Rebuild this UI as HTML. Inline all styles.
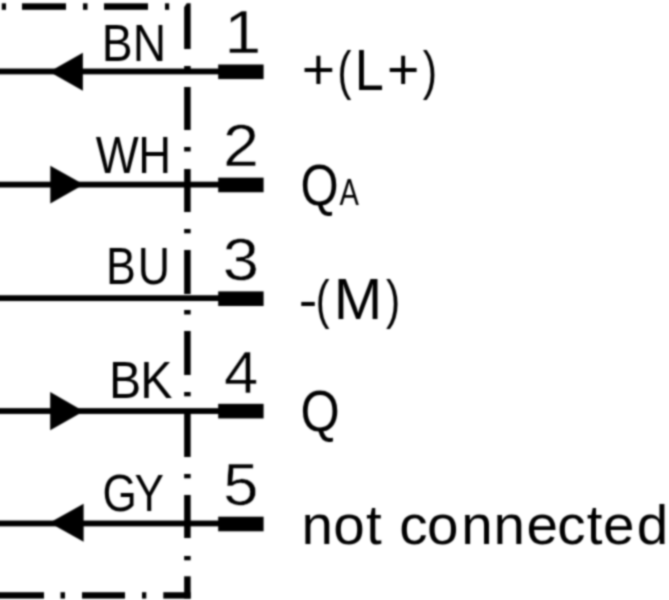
<!DOCTYPE html>
<html><head><meta charset="utf-8"><style>
html,body{margin:0;padding:0;background:#fff;width:669px;height:600px;overflow:hidden}
svg{position:absolute;left:0;top:0;display:block}
text{font-family:"Liberation Sans",sans-serif;fill:#000}
.t{will-change:transform}
</style></head><body>
<svg width="669" height="600" viewBox="0 0 669 600">
<defs><filter id="bl" color-interpolation-filters="sRGB" filterUnits="userSpaceOnUse" x="0" y="0" width="669" height="600"><feConvolveMatrix order="5" kernelMatrix="1 6 12 6 1 6 36 72 36 6 12 72 144 72 12 6 36 72 36 6 1 6 12 6 1" divisor="676" edgeMode="duplicate"/></filter></defs>
<g filter="url(#bl)">
<rect x="0" y="0" width="669" height="600" fill="#fff"/>
<g fill="#000">
<rect x="1.8" y="3.3" width="4.2" height="6.5"/>
<rect x="22" y="3.3" width="44" height="6.5"/>
<rect x="83" y="3.3" width="4.5" height="6.5"/>
<rect x="104" y="3.3" width="44" height="6.5"/>
<rect x="165" y="3.3" width="4.2" height="6.5"/>
<polygon points="184.15,7.2 186.75,3.3 190.65,3.3 190.65,49 184.15,49"/>
<rect x="184.15" y="66" width="6.5" height="4.5"/>
<rect x="184.15" y="87" width="6.5" height="43"/>
<rect x="184.15" y="147" width="6.5" height="4.5"/>
<rect x="184.15" y="169" width="6.5" height="43"/>
<rect x="184.15" y="229" width="6.5" height="4.3"/>
<rect x="184.15" y="250" width="6.5" height="44"/>
<rect x="184.15" y="310" width="6.5" height="4.5"/>
<rect x="184.15" y="331" width="6.5" height="44"/>
<rect x="184.15" y="392" width="6.5" height="4.3"/>
<rect x="184.15" y="413" width="6.5" height="44"/>
<rect x="184.15" y="474" width="6.5" height="4.3"/>
<rect x="184.15" y="495" width="6.5" height="43"/>
<rect x="184.15" y="556" width="6.5" height="4.3"/>
<rect x="184.15" y="576.3" width="6.5" height="22.3"/>
<rect x="-1" y="592.2" width="45" height="6.4"/>
<rect x="60.5" y="592.2" width="4.5" height="6.4"/>
<rect x="82" y="592.2" width="43" height="6.4"/>
<rect x="142" y="592.2" width="4.3" height="6.4"/>
<rect x="163.3" y="592.2" width="27.35" height="6.4"/>
<rect x="-1" y="68.55" width="220" height="5.8"/>
<rect x="-1" y="181.7" width="220" height="5.8"/>
<rect x="-1" y="295.25" width="220" height="5.8"/>
<rect x="-1" y="408.15" width="220" height="5.8"/>
<rect x="-1" y="520.55" width="220" height="5.8"/>
<rect x="218.2" y="64.5" width="45.4" height="14.6"/>
<rect x="218.2" y="177.65" width="45.4" height="14.6"/>
<rect x="218.2" y="291.4" width="45.4" height="14.6"/>
<rect x="218.2" y="403.85" width="45.4" height="14.6"/>
<rect x="218.2" y="516.7" width="45.4" height="14.6"/>
<polygon points="49.3,71.8 82.9,52.849999999999994 82.9,90.75"/>
<polygon points="50.3,165.7 50.3,203.5 83.8,184.6"/>
<polygon points="50.2,392.09999999999997 50.2,430.3 83.7,411.2"/>
<polygon points="49.5,522.8 83.6,503.79999999999995 83.6,541.8"/>
</g>
<g class="t" font-size="100">
<text transform="translate(0 60.90) scale(0.4625 0.5120)" x="219.81 287.18" y="0">BN</text>
<text transform="translate(0 172.50) scale(0.4550 0.5120)" x="210.69 303.94" y="0">WH</text>
<text transform="translate(0 283.90) scale(0.4470 0.5120)" x="237.37 308.18" y="0">BU</text>
<text transform="translate(0 397.90) scale(0.4820 0.5120)" x="226.00 291.20" y="0">BK</text>
<text transform="translate(0 511.00) scale(0.4418 0.5120)" x="232.14 304.21" y="0">GY</text>
<text transform="translate(224.19 52.60) scale(0.6659 0.6142)" stroke="#fff" stroke-width="0.781">1</text>
<text transform="translate(223.11 165.60) scale(0.6478 0.6011)" stroke="#fff" stroke-width="0.801">2</text>
<text transform="translate(222.74 279.65) scale(0.6521 0.6010)" stroke="#fff" stroke-width="0.798">3</text>
<text transform="translate(224.12 392.60) scale(0.6137 0.6011)" stroke="#fff" stroke-width="0.823">4</text>
<text transform="translate(223.32 504.65) scale(0.6312 0.6011)" stroke="#fff" stroke-width="0.811">5</text>
<text transform="translate(301.82 89.33) scale(0.5700 0.5816)">+</text>
<text transform="translate(337.59 89.16) scale(0.4185 0.5351)">(</text>
<text transform="translate(354.72 89.90) scale(0.5222 0.5670)">L</text>
<text transform="translate(386.88 89.46) scale(0.5540 0.5735)">+</text>
<text transform="translate(422.67 89.16) scale(0.4308 0.5351)">)</text>
<text transform="translate(300.54 204.60) scale(0.4899 0.5670)">Q</text>
<text transform="translate(339.50 205.00) scale(0.2909 0.3640)">A</text>
<text transform="translate(298.78 317.99) scale(0.5560 0.5125)">-</text>
<text transform="translate(315.81 318.17) scale(0.4148 0.5394)">(</text>
<text transform="translate(333.74 318.60) scale(0.5824 0.5670)">M</text>
<text transform="translate(385.97 318.17) scale(0.4269 0.5394)">)</text>
<text transform="translate(300.58 431.40) scale(0.5043 0.5670)">Q</text>
<text transform="translate(0 544.10) scale(0.5660 0.5530)" x="532.78 588.96 646.60 676.60 705.51 754.24 815.02 872.09 930.36 984.66 1036.57 1065.34 1125.18" y="0">not connected</text>
</g>
</g>
</svg>
</body></html>
